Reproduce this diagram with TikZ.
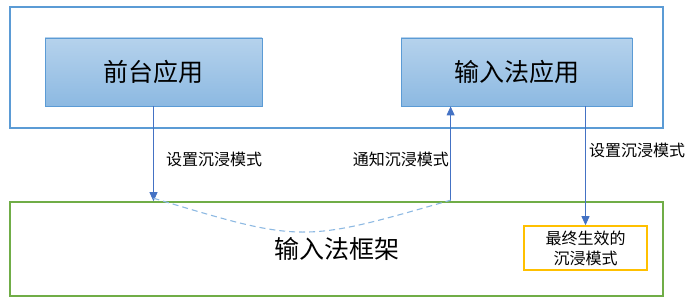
\documentclass[tikz,border=0pt]{standalone}
\usepackage{fontspec}
\setmainfont{Noto Sans CJK SC}
\usetikzlibrary{arrows.meta, positioning}
\definecolor{boxblue}{HTML}{5B9BD5}
\definecolor{arrblue}{HTML}{4472C4}
\definecolor{framegreen}{HTML}{70AD47}
\definecolor{resyellow}{HTML}{FFC000}
\definecolor{dashblue}{HTML}{8DB9E2}

\begin{document}
\begin{tikzpicture}[
  x=1pt, y=-1pt,
  layer/.style={draw, line width=1.6pt, minimum width=653pt, inner sep=0pt},
  app/.style={draw=boxblue, line width=0.8pt, top color=boxblue!45,
              bottom color=boxblue!70, minimum width=#1, minimum height=68pt,
              font=\fontsize{25}{28}\selectfont},
  res/.style={draw=resyellow, line width=1.6pt, minimum width=123pt, minimum height=44pt,
              align=center, font=\fontsize{16}{20}\selectfont},
  lbl/.style={font=\fontsize{16}{18}\selectfont, inner sep=0pt},
  arr/.style={-{Triangle[length=9pt, width=8pt]}, draw=arrblue, line width=0.8pt}
]
  \useasboundingbox (0,0) rectangle (692,307);

  \node[layer, draw=boxblue, minimum height=121pt] (apps) at (336.5,67.5) {};
  \node[layer, draw=framegreen, minimum height=94pt, font=\fontsize{25}{28}\selectfont] (frame) at (336.5,249) {输入法框架};

  \node[app=217pt] (front) at (153.5,72) {前台应用};
  \node[app=231pt] (ime) at (516.5,72) {输入法应用};

  \node[res] (final) at (585.5,248) {最终生效的\\沉浸模式};

  % front app -> framework
  \coordinate (fin) at (front.south |- frame.north);
  \draw[arr] (front.south) -- (fin);
  \node[lbl, anchor=west] (setleft) at (166,159) {设置沉浸模式};

  % framework -> ime app
  \coordinate (fout) at ([xshift=50pt]ime.south west |- frame.north);
  \draw[arr] (fout) -- ([xshift=50pt]ime.south west);
  \node[lbl, anchor=east] (notify) at (449,159) {通知沉浸模式};

  % ime app -> final mode
  \draw[arr] (final.north |- ime.south) -- (final.north);
  \node[lbl, anchor=west] (setright) at (589,150) {设置沉浸模式};

  % relay inside the framework
  \draw[dashblue, dash pattern=on 6pt off 4pt, line width=1.1pt]
    ([yshift=3pt]fin) .. controls (302,243) .. ([yshift=1pt]fout);
\end{tikzpicture}
\end{document}
